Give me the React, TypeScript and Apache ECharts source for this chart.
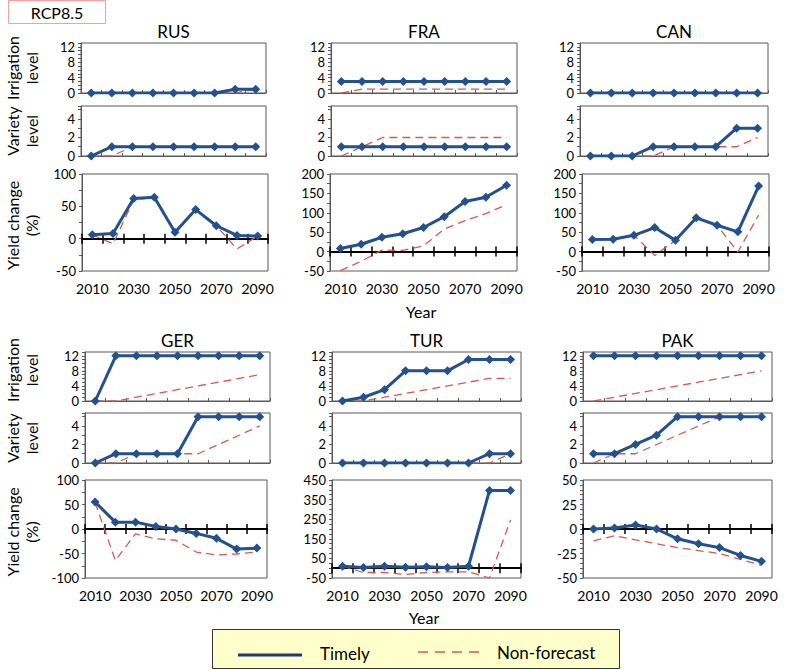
import React, { useEffect, useRef } from 'react';
import * as echarts from 'echarts';

// ---------- data ----------
const YEARS = ['2010', '2020', '2030', '2040', '2050', '2060', '2070', '2080', '2090'];
const COUNTRIES = ['RUS', 'FRA', 'CAN', 'GER', 'TUR', 'PAK'];

const RUS_IRR_TIMELY = [0, 0, 0, 0, 0, 0, 0, 1, 1];
const RUS_IRR_NONFC = [0, 0, 0, 0, 0, 0, 0, 0, 1];
const RUS_VAR_TIMELY = [0, 1, 1, 1, 1, 1, 1, 1, 1];
const RUS_VAR_NONFC = [0, 0, 1, 1, 1, 1, 1, 1, 1];
const RUS_YLD_TIMELY = [6, 8, 62, 64, 10, 45, 20, 5, 4];
const RUS_YLD_NONFC = [6, -8, 60, 64, 10, 45, 20, -16, 4];

const FRA_IRR_TIMELY = [3, 3, 3, 3, 3, 3, 3, 3, 3];
const FRA_IRR_NONFC = [0, 1, 1, 1, 1, 1, 1, 1, 1];
const FRA_VAR_TIMELY = [1, 1, 1, 1, 1, 1, 1, 1, 1];
const FRA_VAR_NONFC = [0, 1, 2, 2, 2, 2, 2, 2, 2];
const FRA_YLD_TIMELY = [8, 19, 37, 46, 62, 90, 129, 140, 171];
const FRA_YLD_NONFC = [-49, -25, 4, 3, 15, 58, 80, 98, 121];

const CAN_IRR_TIMELY = [0, 0, 0, 0, 0, 0, 0, 0, 0];
const CAN_IRR_NONFC = [0, 0, 0, 0, 0, 0, 0, 0, 0];
const CAN_VAR_TIMELY = [0, 0, 0, 1, 1, 1, 1, 3, 3];
const CAN_VAR_NONFC = [0, 0, 0, 0, 1, 1, 1, 1, 2];
const CAN_YLD_TIMELY = [31, 32, 42, 62, 29, 87, 68, 51, 169];
const CAN_YLD_NONFC = [31, 32, 42, -10, 29, 87, 68, -1, 94];

const GER_IRR_TIMELY = [0, 12, 12, 12, 12, 12, 12, 12, 12];
const GER_IRR_NONFC = [0, 0, 1, 2, 3, 4, 5, 6, 7];
const GER_VAR_TIMELY = [0, 1, 1, 1, 1, 5, 5, 5, 5];
const GER_VAR_NONFC = [0, 0, 1, 1, 1, 1, 2, 3, 4];
const GER_YLD_TIMELY = [55, 14, 14, 5, 0, -9, -19, -41, -39];
const GER_YLD_NONFC = [54, -64, -10, -20, -23, -47, -53, -51, -47];

const TUR_IRR_TIMELY = [0, 1, 3, 8, 8, 8, 11, 11, 11];
const TUR_IRR_NONFC = [0, 0, 1, 2, 3, 4, 5, 6, 6];
const TUR_VAR_TIMELY = [0, 0, 0, 0, 0, 0, 0, 1, 1];
const TUR_VAR_NONFC = [0, 0, 0, 0, 0, 0, 0, 0, 1];
const TUR_YLD_TIMELY = [10, 3, 10, 5, 7, 3, 10, 397, 396];
const TUR_YLD_NONFC = [10, -22, -22, -32, -22, -19, -19, -50, 246];

const PAK_IRR_TIMELY = [12, 12, 12, 12, 12, 12, 12, 12, 12];
const PAK_IRR_NONFC = [0, 1, 2, 3, 4, 5, 6, 7, 8];
const PAK_VAR_TIMELY = [1, 1, 2, 3, 5, 5, 5, 5, 5];
const PAK_VAR_NONFC = [0, 1, 1, 2, 3, 4, 5, 5, 5];
const PAK_YLD_TIMELY = [0, 1, 4, 0, -10, -15, -19, -27, -33];
const PAK_YLD_NONFC = [-12, -7, -11, -15, -19, -22, -25, -31, -37];

// yield axis ranges: [min, max, tick step, label step, label base]
const YIELD_AXES = [
  [-50, 100, 25, 50, 0],
  [-50, 200, 25, 50, 0],
  [-50, 200, 25, 50, 0],
  [-100, 100, 25, 50, 0],
  [-50, 450, 25, 100, -50],
  [-50, 50, 5, 25, 0],
];

const SERIES = [
  [RUS_IRR_TIMELY, RUS_IRR_NONFC, RUS_VAR_TIMELY, RUS_VAR_NONFC, RUS_YLD_TIMELY, RUS_YLD_NONFC],
  [FRA_IRR_TIMELY, FRA_IRR_NONFC, FRA_VAR_TIMELY, FRA_VAR_NONFC, FRA_YLD_TIMELY, FRA_YLD_NONFC],
  [CAN_IRR_TIMELY, CAN_IRR_NONFC, CAN_VAR_TIMELY, CAN_VAR_NONFC, CAN_YLD_TIMELY, CAN_YLD_NONFC],
  [GER_IRR_TIMELY, GER_IRR_NONFC, GER_VAR_TIMELY, GER_VAR_NONFC, GER_YLD_TIMELY, GER_YLD_NONFC],
  [TUR_IRR_TIMELY, TUR_IRR_NONFC, TUR_VAR_TIMELY, TUR_VAR_NONFC, TUR_YLD_TIMELY, TUR_YLD_NONFC],
  [PAK_IRR_TIMELY, PAK_IRR_NONFC, PAK_VAR_TIMELY, PAK_VAR_NONFC, PAK_YLD_TIMELY, PAK_YLD_NONFC],
];

// ---------- layout ----------
// per panel: [irr/var left, irr/var width, yield left, yield width]
const COLS = [
  [81, 185, 82, 186],
  [331, 186, 330, 187],
  [580, 188, 582, 187],
  [85, 185, 85, 182],
  [332, 189, 332, 189],
  [583, 189, 583, 189],
];
// per row: [irrTop, irrH, varTop, varH, yldTop, yldH, titleY, labelNameIrrY]
const ROWS = [
  [43, 50, 106, 50, 174, 97, 31, 68],
  [352, 49, 413, 50, 480, 98, 340, 370],
];

const FONT = 'Lato, "Noto Sans", sans-serif';
const BLUE = '#23508E';
const RED = '#D9574F';
const BORDER = '#595959';

function buildOption() {
  const grids: any[] = [];
  const xAxes: any[] = [];
  const yAxes: any[] = [];
  const series: any[] = [];
  const graphics: any[] = [];

  COUNTRIES.forEach((name, pi) => {
    const col = COLS[pi];
    const row = ROWS[pi < 3 ? 0 : 1];
    const data = SERIES[pi];
    const ya = YIELD_AXES[pi];
    const subs = [
      { t: data[0], n: data[1], min: 0, max: 13, step: 1, show: (v: number) => v % 4 === 0 && v <= 12, box: [col[0], row[0], col[1], row[1]], y: false },
      { t: data[2], n: data[3], min: 0, max: 5.4, step: 1, show: (v: number) => v % 2 === 0 && v <= 4, box: [col[0], row[2], col[1], row[3]], y: false },
      { t: data[4], n: data[5], min: ya[0], max: ya[1], step: ya[2], show: (v: number) => (v - ya[4]) % ya[3] === 0, box: [col[2], row[4], col[3], row[5]], y: true },
    ];
    subs.forEach((s) => {
      const gi = grids.length;
      grids.push({
        left: s.box[0], top: s.box[1], width: s.box[2], height: s.box[3],
        show: true, borderColor: BORDER, borderWidth: 1, backgroundColor: 'transparent',
        containLabel: false, outerBoundsMode: 'none',
      });
      const yi = yAxes.length;
      yAxes.push({
        type: 'value', gridIndex: gi, min: s.min, max: s.max, interval: s.step,
        axisLine: { show: true, lineStyle: { color: BORDER, width: 1 } },
        axisTick: { show: true, length: 3, inside: false, lineStyle: { color: BORDER, width: 1 } },
        splitLine: { show: false },
        axisLabel: {
          show: true, color: '#000', fontSize: 13, fontFamily: FONT, margin: 6, lineHeight: 13,
          formatter: (v: number) => (s.show(Math.round(v * 100) / 100) ? String(v) : ''),
        },
      });
      let xi = xAxes.length;
      if (!s.y) {
        xAxes.push({
          type: 'category', gridIndex: gi, data: YEARS, boundaryGap: true, position: 'bottom',
          axisLine: { show: true, onZero: false, lineStyle: { color: BORDER, width: 1 } },
          axisTick: { show: true, inside: true, length: 3, interval: 0, lineStyle: { color: BORDER, width: 1 } },
          axisLabel: { show: false },
          splitLine: { show: false },
        });
      } else {
        xAxes.push({
          type: 'category', gridIndex: gi, data: YEARS, boundaryGap: true, position: 'bottom',
          axisLine: { show: false, onZero: false },
          axisTick: { show: false },
          axisLabel: { show: true, interval: 1, color: '#000', fontSize: 14, fontFamily: FONT, margin: 10 },
          splitLine: { show: false },
        });
        xAxes.push({
          type: 'category', gridIndex: gi, data: YEARS, boundaryGap: true, position: 'bottom',
          axisLine: { show: true, onZero: true, onZeroAxisIndex: yi, lineStyle: { color: '#000', width: 2 } },
          axisTick: { show: true, inside: false, length: 5, interval: 0, lineStyle: { color: '#000', width: 1.5 } },
          axisLabel: { show: false },
          splitLine: { show: false },
        });
        xAxes.push({
          type: 'category', gridIndex: gi, data: YEARS, boundaryGap: true, position: 'top',
          axisLine: { show: false, onZero: true, onZeroAxisIndex: yi },
          axisTick: { show: true, inside: false, length: 5, interval: 0, lineStyle: { color: '#000', width: 1.5 } },
          axisLabel: { show: false },
          splitLine: { show: false },
        });
      }
      series.push({
        type: 'line', name: 'Non-forecast', xAxisIndex: xi, yAxisIndex: yi, data: s.n,
        symbol: 'none', lineStyle: { color: RED, width: 1.3, type: [8, 5] }, z: 2,
      });
      series.push({
        type: 'line', name: 'Timely', xAxisIndex: xi, yAxisIndex: yi, data: s.t,
        symbol: 'diamond', symbolSize: 9, lineStyle: { color: BLUE, width: 3 },
        itemStyle: { color: BLUE }, z: 3,
      });
    });

    // title
    graphics.push({
      type: 'text', x: col[0] + col[1] / 2, y: row[6],
      style: { text: name, font: `17px ${FONT}`, fill: '#000', align: 'center', verticalAlign: 'middle' },
    });

    // y-axis names for first column
    if (pi === 0 || pi === 3) {
      const names = ['Irrigation\nlevel', 'Variety\nlevel', 'Yield change\n(%)'];
      const ys = [row[7], row[2] + row[3] / 2, row[4] + row[5] / 2 + 3];
      names.forEach((t, k) => {
        graphics.push({
          type: 'text', x: 22, y: ys[k], rotation: Math.PI / 2,
          style: { text: t, font: `16px ${FONT}`, lineHeight: 19, fill: '#000', align: 'center', verticalAlign: 'middle' },
        });
      });
    }
  });

  // "Year" labels
  graphics.push({ type: 'text', x: 421, y: 311, style: { text: 'Year', font: `16px ${FONT}`, fill: '#000', align: 'center', verticalAlign: 'middle' } });
  graphics.push({ type: 'text', x: 424, y: 617, style: { text: 'Year', font: `16px ${FONT}`, fill: '#000', align: 'center', verticalAlign: 'middle' } });

  // RCP8.5 box
  graphics.push({ type: 'rect', shape: { x: 8.5, y: 0.5, width: 97, height: 23 }, style: { fill: '#fff', stroke: '#F2A0A0', lineWidth: 1 } });
  graphics.push({ type: 'text', x: 57, y: 12.5, style: { text: 'RCP8.5', font: `16px ${FONT}`, fill: '#000', align: 'center', verticalAlign: 'middle' } });

  // legend
  graphics.push({ type: 'rect', shape: { x: 212.5, y: 629.5, width: 407, height: 39 }, style: { fill: '#FFFFCC', stroke: '#333', lineWidth: 1 } });
  graphics.push({ type: 'line', shape: { x1: 238, y1: 655, x2: 302, y2: 655 }, style: { stroke: '#1F3A78', lineWidth: 3 } });
  graphics.push({ type: 'text', x: 320, y: 653, style: { text: 'Timely', font: `17px ${FONT}`, fill: '#000', align: 'left', verticalAlign: 'middle' } });
  graphics.push({ type: 'line', shape: { x1: 418, y1: 652, x2: 481, y2: 652 }, style: { stroke: RED, lineWidth: 1.3, lineDash: [10, 7] } });
  graphics.push({ type: 'text', x: 497, y: 652, style: { text: 'Non-forecast', font: `17px ${FONT}`, fill: '#000', align: 'left', verticalAlign: 'middle' } });

  return {
    animation: false,
    backgroundColor: '#fff',
    textStyle: { fontFamily: FONT },
    grid: grids,
    xAxis: xAxes,
    yAxis: yAxes,
    series,
    graphic: graphics,
  };
}

export default function App() {
  const ref = useRef<HTMLDivElement>(null);
  useEffect(() => {
    const chart = echarts.init(ref.current!, undefined, { renderer: 'svg' });
    chart.setOption(buildOption() as any);
    return () => chart.dispose();
  }, []);
  return (
    <div
      ref={ref}
      style={{ position: 'absolute', left: 0, top: 0, width: 787, height: 670, background: '#fff' }}
    />
  );
}
